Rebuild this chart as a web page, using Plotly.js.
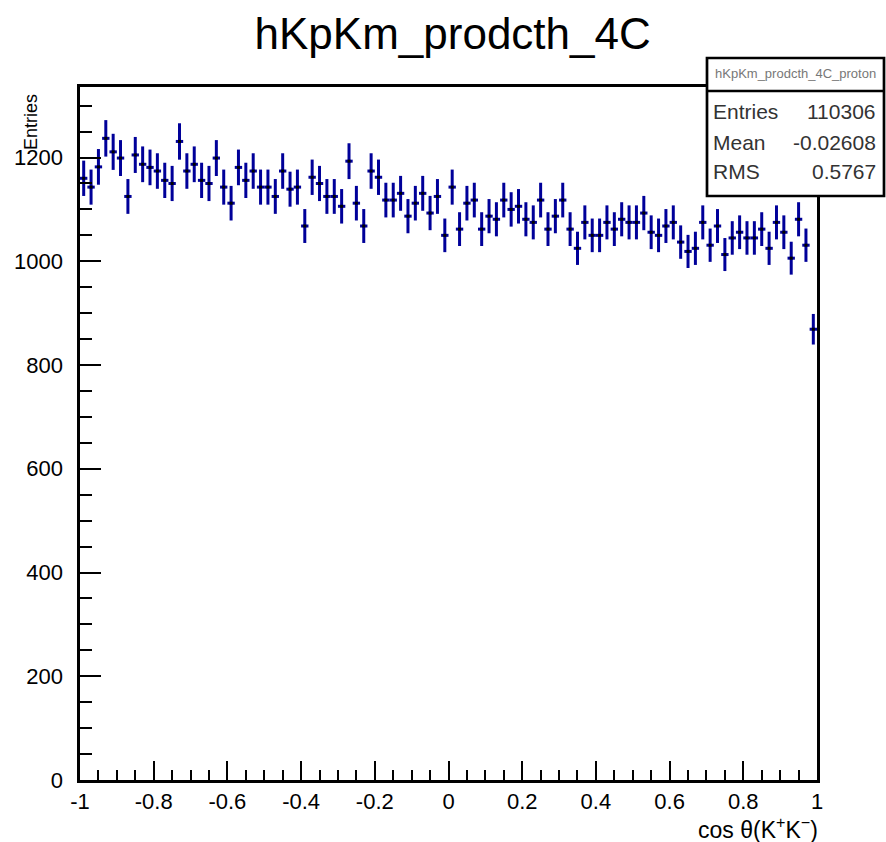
<!DOCTYPE html>
<html>
<head>
<meta charset="utf-8">
<script src="https://cdn.plot.ly/plotly-3.0.1.min.js"></script>
<style>
  html, body { margin: 0; padding: 0; background: #fff; }
  #chart { width: 886px; height: 842px; }
</style>
</head>
<body>
<div id="chart"></div>
<script>
// Histogram binning
const xMin = -1;
const xMax = 1;
const nBins = 100;

// Bin contents (100 bins, cos theta from -1 to 1)
const binCounts = [
  1160, 1143, 1182, 1237, 1211, 1199, 1125, 1205, 1187, 1181,
  1174, 1156, 1150, 1231, 1174, 1187, 1156, 1150, 1199, 1143,
  1112, 1181, 1156, 1174, 1143, 1143, 1125, 1174, 1139, 1143,
  1068, 1162, 1150, 1125, 1125, 1106, 1193, 1112, 1068, 1174,
  1162, 1118, 1118, 1131, 1087, 1112, 1131, 1093, 1125, 1050,
  1143, 1062, 1112, 1118, 1062, 1087, 1081, 1118, 1100, 1106,
  1081, 1075, 1118, 1062, 1087, 1118, 1062, 1025, 1075, 1050,
  1050, 1075, 1062, 1081, 1075, 1075, 1093, 1056, 1050, 1068,
  1075, 1037, 1019, 1025, 1075, 1031, 1068, 1013, 1045, 1056,
  1045, 1045, 1062, 1025, 1075, 1056, 1006, 1081, 1031, 869
];

// Axis ticks
const xTickVals = [-1, -0.8, -0.6, -0.4, -0.2, 0, 0.2, 0.4, 0.6, 0.8, 1];
const xTickText = ["-1", "-0.8", "-0.6", "-0.4", "-0.2", "0", "0.2", "0.4", "0.6", "0.8", "1"];
const yTickVals = [0, 200, 400, 600, 800, 1000, 1200];
const yTickText = ["0", "200", "400", "600", "800", "1000", "1200"];

// Texts
const chartTitle = "hKpKm_prodcth_4C";
const statName = "hKpKm_prodcth_4C_proton";
const statLabels = ["Entries", "Mean", "RMS"];
const statValues = ["110306", "-0.02608", "0.5767"];
const xTitle = "cos θ(K<sup>+</sup>K<sup>−</sup>)";
const yTitle = "Entries";

// Bin centers from the binning
const binWidth = (xMax - xMin) / nBins;
const binCenters = binCounts.map((_, i) => xMin + binWidth * (i + 0.5));

const FONT = "Liberation Sans, Arial, Helvetica, sans-serif";
const BLUE = "#000099";

// plot area in pixels
const L = 80, R = 817, T = 87, B = 780;
const W = 886, H = 842;
const px2x = p => (p - L) / (R - L);
const px2y = p => (B - p) / (B - T);

const trace = {
  type: "scatter",
  mode: "markers",
  x: binCenters,
  y: binCounts,
  marker: { symbol: "square", size: 3, color: "#000000" },
  error_y: { type: "sqrt", color: BLUE, thickness: 3, width: 0 },
  error_x: { type: "constant", value: binWidth / 2, color: BLUE, thickness: 3, width: 0 },
  hoverinfo: "x+y",
  showlegend: false,
  cliponaxis: true
};

const annotations = [
  { text: yTitle, xref: "paper", yref: "paper", x: px2x(31), y: px2y(122),
    textangle: -90, xanchor: "center", yanchor: "middle", showarrow: false,
    font: { family: FONT, size: 18, color: "#000" } },
  { text: xTitle, xref: "paper", yref: "paper", x: px2x(820), y: px2y(828),
    xanchor: "right", yanchor: "middle", showarrow: false,
    font: { family: FONT, size: 23, color: "#000" } },
  { text: statName, xref: "paper", yref: "paper", x: px2x(795), y: px2y(73),
    xanchor: "center", yanchor: "middle", showarrow: false,
    font: { family: FONT, size: 13, color: "#777" } }
];
const statRowsY = [111, 142, 171];
statLabels.forEach((lab, i) => {
  annotations.push({ text: lab, xref: "paper", yref: "paper", x: px2x(711), y: px2y(statRowsY[i]),
    xanchor: "left", yanchor: "middle", showarrow: false,
    font: { family: FONT, size: 21, color: "#333" } });
  annotations.push({ text: statValues[i], xref: "paper", yref: "paper", x: px2x(878), y: px2y(statRowsY[i]),
    xanchor: "right", yanchor: "middle", showarrow: false,
    font: { family: FONT, size: 21, color: "#333" } });
});

const shapes = [
  { type: "rect", xref: "paper", yref: "paper", layer: "above",
    x0: px2x(707), x1: px2x(884), y0: px2y(196), y1: px2y(58),
    fillcolor: "#ffffff", line: { color: "#000", width: 2.7 } },
  { type: "line", xref: "paper", yref: "paper", layer: "above",
    x0: px2x(707), x1: px2x(884), y0: px2y(91), y1: px2y(91),
    line: { color: "#000", width: 2.7 } }
];

const layout = {
  width: W, height: H,
  paper_bgcolor: "#ffffff", plot_bgcolor: "#ffffff",
  margin: { l: L, r: W - R, t: T, b: H - B, pad: 0 },
  title: { text: chartTitle, x: 448 / W, xref: "paper", xanchor: "center",
           y: 1 - 34 / H, yref: "container", yanchor: "middle",
           font: { family: FONT, size: 44, color: "#000" } },
  xaxis: {
    range: [xMin, xMax], autorange: false,
    tickmode: "array", tickvals: xTickVals, ticktext: xTickText,
    ticks: "inside", ticklen: 19, tickwidth: 2, tickcolor: "#000",
    minor: { dtick: 0.05, tick0: -1, ticks: "inside", ticklen: 10, tickwidth: 2, tickcolor: "#000", showgrid: false },
    showline: true, linecolor: "#000", linewidth: 2.7, mirror: true,
    showgrid: false, zeroline: false, automargin: false,
    ticklabelstandoff: 0,
    tickfont: { family: FONT, size: 22, color: "#000" }
  },
  yaxis: {
    range: [0, 1336], autorange: false,
    tickmode: "array", tickvals: yTickVals, ticktext: yTickText,
    ticks: "inside", ticklen: 21, tickwidth: 2, tickcolor: "#000",
    minor: { dtick: 50, tick0: 0, ticks: "inside", ticklen: 12, tickwidth: 2, tickcolor: "#000", showgrid: false },
    showline: true, linecolor: "#000", linewidth: 2.7, mirror: true,
    showgrid: false, zeroline: false, automargin: false,
    ticklabelstandoff: 10,
    tickfont: { family: FONT, size: 22, color: "#000" }
  },
  annotations: annotations,
  shapes: shapes,
  showlegend: false
};

Plotly.newPlot("chart", [trace], layout, { displayModeBar: false, staticPlot: true });
</script>
</body>
</html>
